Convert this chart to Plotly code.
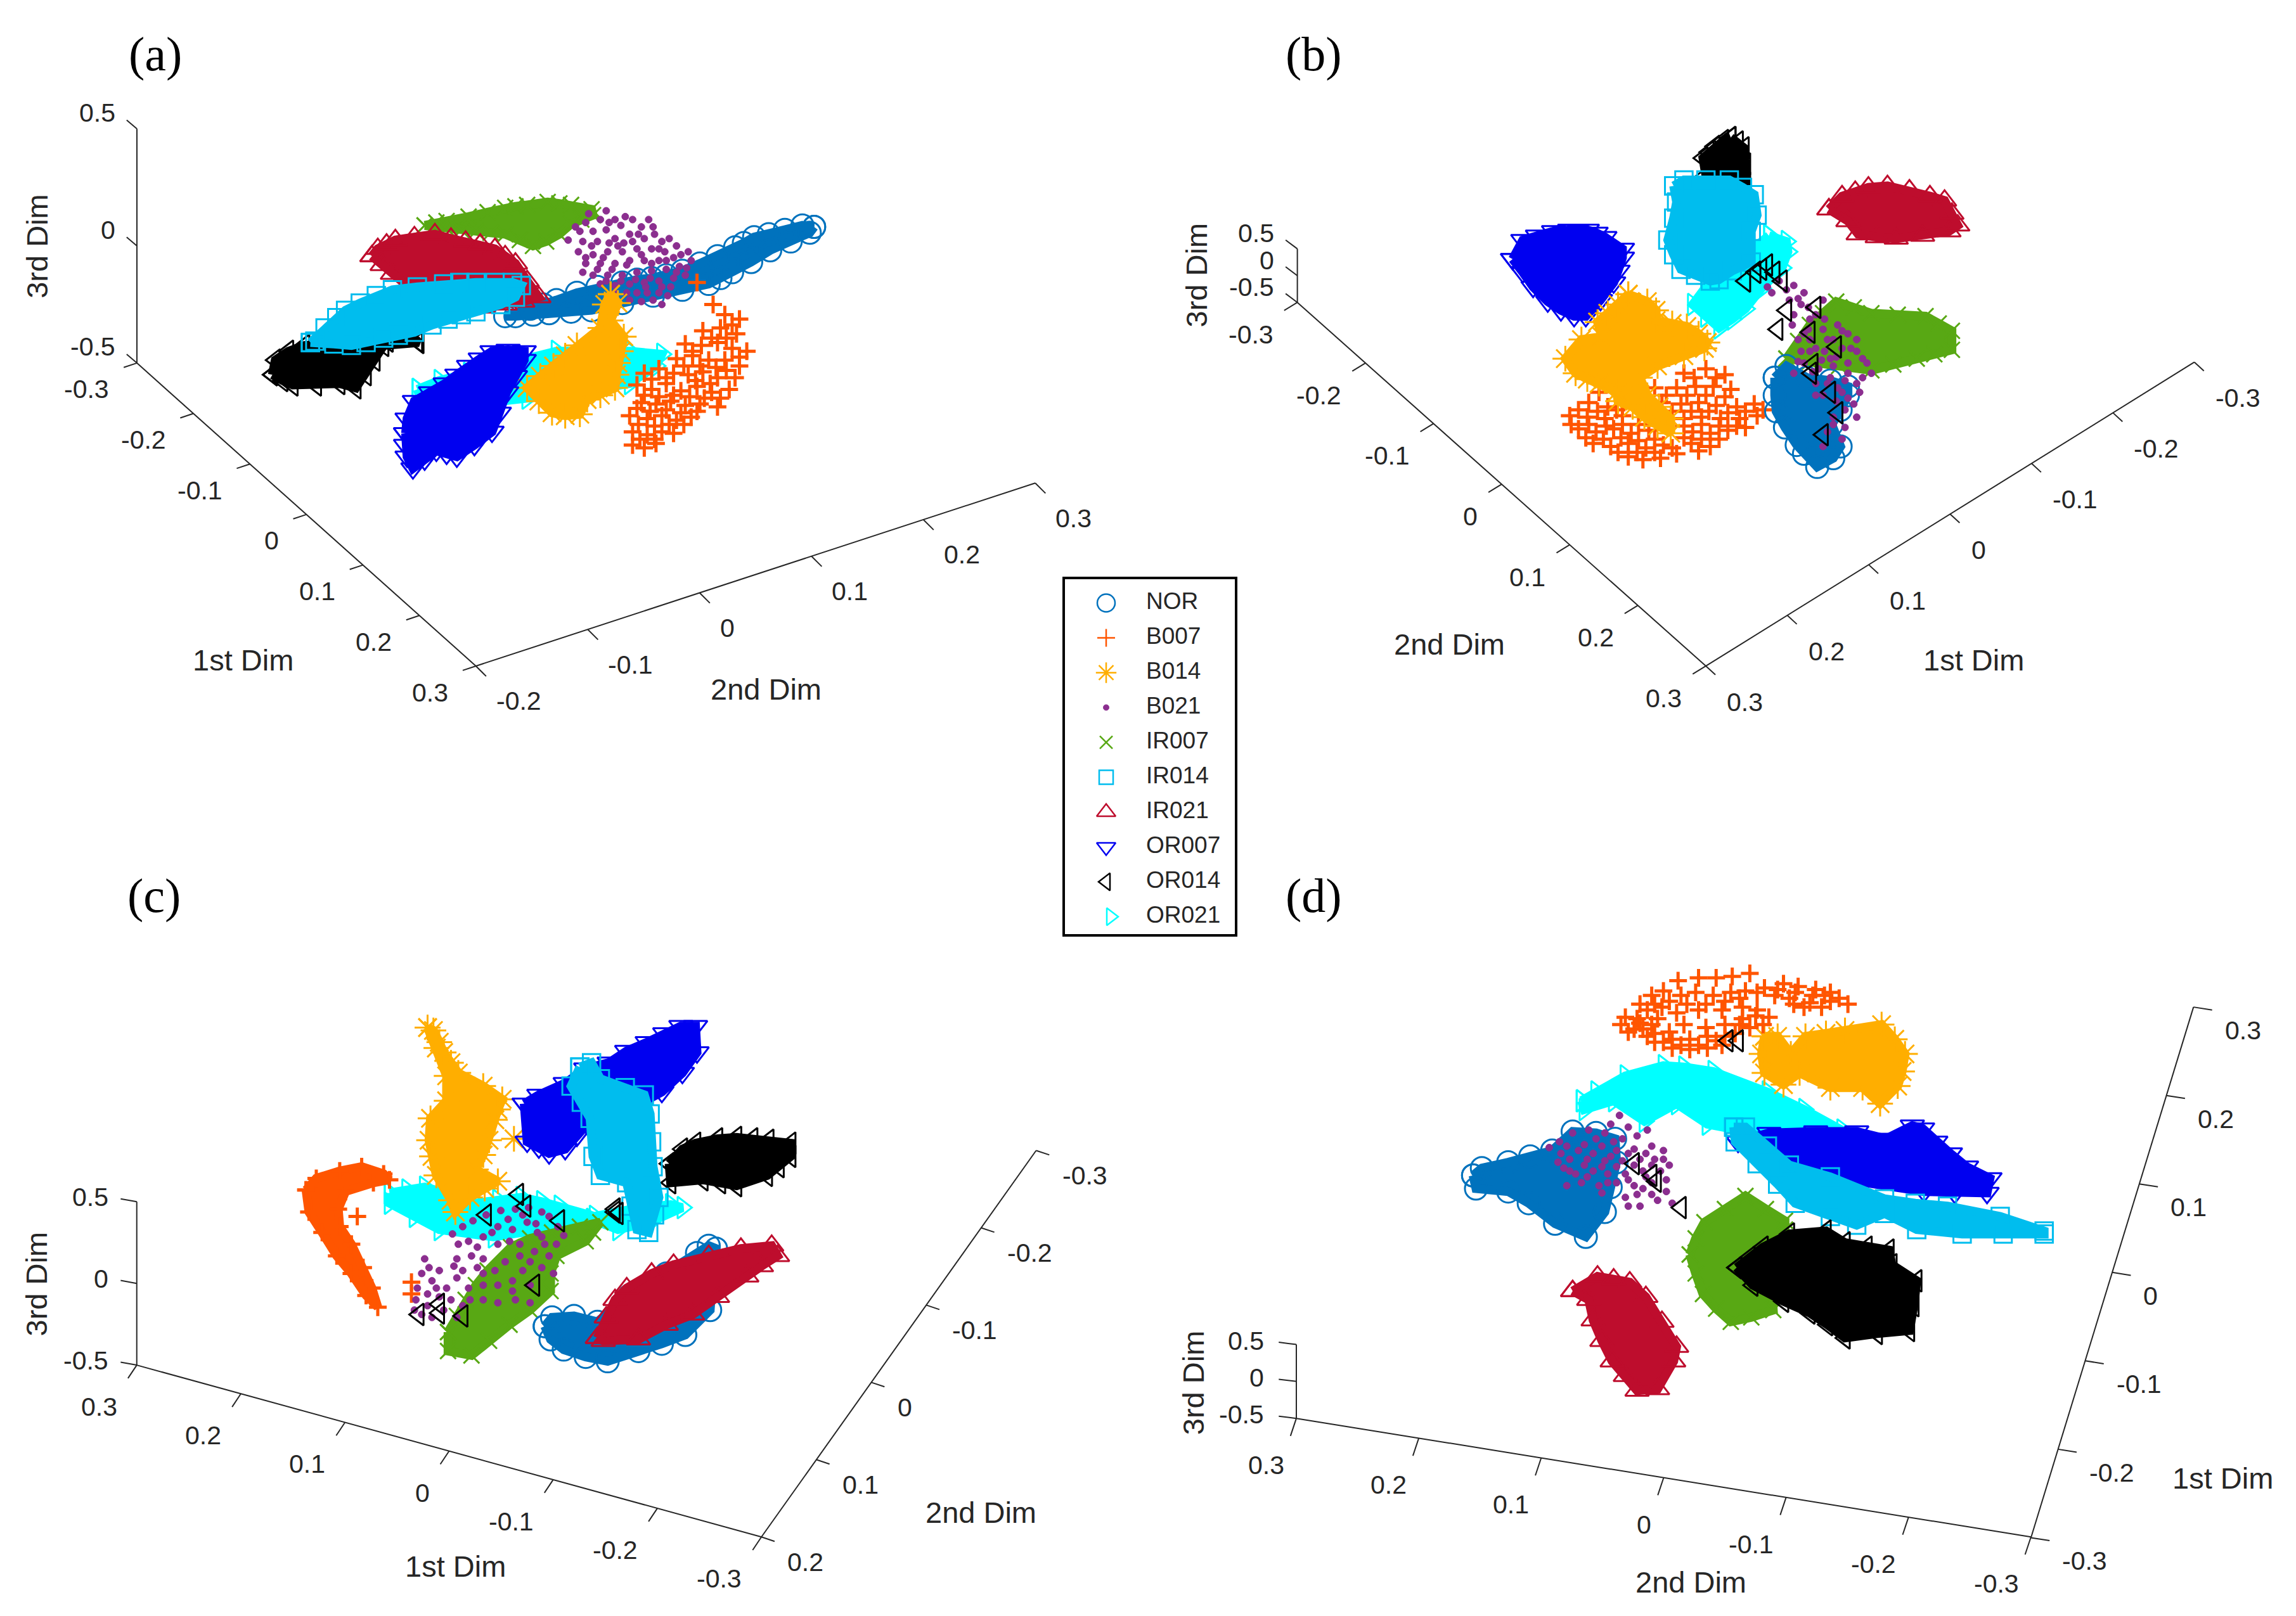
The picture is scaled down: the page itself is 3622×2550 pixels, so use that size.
import plotly.graph_objects as go

# values, in the units of the picture shown at 1568 wide
REF_W = 1568
REF_H = 1104

CLASS_NAMES = ["NOR", "B007", "B014", "B021", "IR007", "IR014", "IR021", "OR007", "OR014", "OR021"]
CLASS_COLORS = ["#0072BD", "#FF5500", "#FFAE00", "#8B2E8F", "#58A814", "#00BDEE", "#BE0D2D", "#0000F0", "#000000", "#00FFFF"]
CLASS_SYMBOLS = ["circle-open", "cross-thin-open", "asterisk-open", "circle", "x-thin-open", "square-open",
                 "triangle-up-open", "triangle-down-open", "triangle-left-open", "triangle-right-open"]
CLASS_SIZES = [28, 20, 27, 9, 20, 22, 26, 26, 24, 24]

TICKS_1ST = ["-0.3", "-0.2", "-0.1", "0", "0.1", "0.2", "0.3"]
TICKS_2ND_SHORT = ["-0.2", "-0.1", "0", "0.1", "0.2", "0.3"]
TICKS_3RD = ["-0.5", "0", "0.5"]

# panel (a)
A_NOR = [(556,155),(548,154),(536,157),(525,160),(515,162),(508,166),(502,169),(490,175),(478,180),(466,185),(455,188),(445,190),(435,191),(425,193),(408,196),(394,200),(380,205),(371,208),(362,211),(345,216),(352,216),(364,215),(375,214),(390,213),(404,212),(425,207),(446,202),(466,198),(484,194),(492,190),(500,186),(513,179),(526,171),(540,165),(553,159)]
A_IR007 = [(290,154),(298,152),(305,151),(320,148),(333,145),(345,142),(352,141),(360,140),(374,138),(382,139),(390,140),(404,143),(405,147),(397,150),(390,153),(382,160),(373,165),(364,168),(355,164),(345,160),(335,159),(325,158),(315,157),(305,156)]
A_IR021 = [(254,175),(258,170),(264,167),(270,164),(283,162),(297,160),(308,163),(318,165),(328,167),(338,170),(345,175),(352,180),(360,192),(368,203),(357,206),(345,208),(330,210),(320,209),(310,208),(300,206),(290,205),(279,196),(268,187),(261,181)]
A_OR021 = [(285,266),(300,260),(320,255),(350,247),(380,240),(405,240),(430,240),(452,242),(448,250),(430,262),(395,268),(360,272),(325,276),(290,280)]
A_OR014 = [(186,256),(188,246),(197,240),(208,236),(224,235),(240,234),(265,233),(285,233),(286,234),(262,236),(256,246),(250,256),(243,265),(232,262),(216,263),(200,263),(193,260)]
A_IR014 = [(212,234),(222,224),(230,217),(236,212),(246,207),(257,202),(268,198),(285,196),(303,194),(314,193),(325,193),(338,193),(350,193),(356,195),(352,203),(342,208),(325,213),(315,215),(306,218),(295,222),(283,227),(272,229),(262,231),(250,234),(240,236),(228,235),(215,233)]
A_OR007 = [(277,296),(278,286),(283,274),(294,268),(304,262),(312,256),(320,250),(328,245),(336,240),(347,239),(358,240),(358,246),(352,257),(346,268),(341,282),(336,295),(324,304),(312,312),(305,310),(298,308),(290,314),(282,320),(278,312),(277,304)]
A_B014 = [(417,201),(422,207),(417,219),(426,230),(424,240),(422,248),(421,256),(420,265),(410,270),(401,273),(396,283),(386,284),(377,282),(368,274),(360,265),(369,257),(378,250),(386,243),(394,236),(410,224),(413,208)]
A_B007 = [(476,193),(487,208),(495,215),(505,218),(500,222),(480,226),(492,224),(503,228),(486,231),(496,231),(468,235),(479,236),(490,234),(500,238),(510,240),(473,240),(505,244),(462,245),(473,243),(484,246),(495,246),(505,250),(467,250),(478,250),(489,251),(440,255),(450,252),(460,255),(470,256),(480,254),(490,258),(502,258),(496,253),(445,259),(455,258),(475,260),(485,262),(435,263),(445,266),(455,262),(465,267),(476,264),(486,268),(498,266),(440,270),(450,271),(460,270),(471,271),(481,272),(492,272),(438,275),(448,276),(458,274),(468,277),(478,276),(490,278),(435,279),(444,281),(455,280),(465,282),(476,281),(430,284),(442,286),(452,284),(462,287),(472,285),(436,290),(447,291),(457,290),(467,290),(432,295),(442,297),(452,295),(460,296),(437,300),(447,300),(432,304),(440,306),(448,303)]
A_B021 = [(414,144),(420,150),(410,150),(400,152),(396,158),(405,158),(414,157),(424,154),(432,150),(438,155),(430,160),(420,163),(408,165),(398,165),(388,164),(447,160),(440,163),(452,165),(462,168),(454,172),(445,170),(435,170),(425,172),(415,172),(405,174),(395,172),(400,180),(410,180),(420,180),(430,178),(440,178),(450,178),(460,176),(470,172),(472,178),(464,182),(455,184),(445,185),(435,186),(425,188),(415,188),(405,188),(398,186),(410,194),(420,195),(430,194),(440,193),(450,192),(460,190),(468,188),(435,200),(442,200),(450,200),(446,205),(438,206),(452,208),(458,196),(428,200),(404,168),(426,166),(416,166),(446,155),(402,146),(393,155),(416,152),(427,148),(436,160),(443,150),(457,163),(465,174),(450,170),(438,174),(428,181),(418,184),(408,184),(400,176),(412,176),(422,168),(432,165),(445,180),(455,178),(462,186),(452,196),(444,190),(434,191),(424,192),(414,192),(420,200),(430,205),(441,196),(456,202),(469,183)]

# panel (b)
B_OR014 = [(1182,94),(1187,97),(1191,101),(1192,112),(1192,125),(1178,122),(1165,120),(1163,108),(1167,104),(1171,100),(1177,96)]
B_IR014 = [(1143,127),(1150,123),(1165,123),(1181,123),(1190,128),(1198,133),(1200,147),(1196,158),(1196,179),(1183,185),(1174,191),(1168,192),(1158,188),(1148,184),(1143,174),(1139,164),(1143,149),(1145,138)]
B_OR021 = [(1208,161),(1220,165),(1221,172),(1217,183),(1203,197),(1192,211),(1183,218),(1174,224),(1165,216),(1156,208),(1165,196)]
B_OR007 = [(1033,177),(1040,164),(1050,161),(1061,158),(1072,157),(1084,157),(1090,159),(1096,162),(1108,170),(1108,176),(1105,185),(1102,193),(1093,205),(1083,216),(1075,216),(1066,212),(1057,206),(1047,196),(1040,186)]
B_B014 = [(1112,201),(1125,206),(1131,212),(1131,219),(1142,221),(1152,223),(1160,228),(1166,234),(1164,238),(1150,243),(1132,250),(1120,258),(1125,270),(1133,278),(1141,286),(1141,296),(1132,291),(1123,285),(1115,278),(1105,274),(1104,268),(1092,262),(1084,259),(1076,255),(1069,245),(1080,232),(1094,230),(1091,220),(1098,214),(1105,208)]
B_IR021 = [(1249,143),(1258,134),(1267,131),(1276,128),(1289,127),(1304,130),(1318,134),(1328,137),(1333,146),(1337,154),(1331,158),(1313,161),(1295,163),(1282,162),(1269,160),(1262,151)]
B_IR007 = [(1220,245),(1228,233),(1236,222),(1245,214),(1254,206),(1266,210),(1278,214),(1296,215),(1315,216),(1324,221),(1333,226),(1333,239),(1321,242),(1309,245),(1293,249),(1278,253),(1256,250),(1236,247)]
B_NOR = [(1212,258),(1220,250),(1234,258),(1250,260),(1262,264),(1262,270),(1257,280),(1251,290),(1257,305),(1252,313),(1241,319),(1232,310),(1227,304),(1219,292),(1213,281),(1212,270)]
B_B021 = [(1207,196),(1215,192),(1225,195),(1232,200),(1222,205),(1210,200),(1230,208),(1240,215),(1225,215),(1235,225),(1228,232),(1245,225),(1252,232),(1240,238),(1262,228),(1255,222),(1268,232),(1272,245),(1262,248),(1250,245),(1242,252),(1232,248),(1225,255),(1240,262),(1250,258),(1262,255),(1275,248),(1278,255),(1268,262),(1255,265),(1245,270),(1262,272),(1270,268),(1260,280),(1268,285),(1252,285),(1260,292),(1248,295),(1258,300),(1245,305),(1252,290),(1235,210),(1245,205),(1230,240),(1246,240),(1258,238),(1268,240),(1236,232),(1252,250),(1240,270),(1220,198),(1228,204),(1236,218),(1246,218),(1224,222),(1232,228),(1248,232),(1258,226),(1264,238),(1254,244),(1244,246),(1236,240),(1228,247),(1238,254),(1248,262),(1258,268),(1266,276),(1254,274),(1260,260),(1272,258)]
B_B007 = [(1150,255),(1165,252),(1178,256),(1157,258),(1172,258),(1092,268),(1130,265),(1145,265),(1158,264),(1170,264),(1182,266),(1138,270),(1152,270),(1165,270),(1178,271),(1085,275),(1098,278),(1135,275),(1148,276),(1160,275),(1172,277),(1186,278),(1198,276),(1078,280),(1091,281),(1104,280),(1142,281),(1155,281),(1167,281),(1180,282),(1192,281),(1204,280),(1072,284),(1084,285),(1096,286),(1108,284),(1136,285),(1150,286),(1162,285),(1175,286),(1188,286),(1200,284),(1073,290),(1085,290),(1097,291),(1108,290),(1119,290),(1150,291),(1162,290),(1174,291),(1186,291),(1078,293),(1090,295),(1102,293),(1114,296),(1126,294),(1156,295),(1168,296),(1180,294),(1192,292),(1083,299),(1095,300),(1107,299),(1119,301),(1130,300),(1150,299),(1162,300),(1174,300),(1088,303),(1100,305),(1112,303),(1124,306),(1136,304),(1155,303),(1168,305),(1105,309),(1118,309),(1130,309),(1142,306),(1160,308),(1112,312),(1122,314),(1134,313),(1145,310),(1245,297)]
B_OR014_STRAY = [(1192,192),(1203,184),(1212,186),(1217,192),(1220,212),(1240,210),(1214,225),(1236,227),(1254,237),(1238,249),(1237,255),(1250,268),(1255,282),(1245,297),(1207,181),(1199,186)]

# panel (c)
C_B014 = [(292,702),(296,704),(300,712),(303,719),(308,726),(313,733),(330,742),(343,751),(340,758),(338,765),(334,779),(330,789),(325,799),(340,807),(331,812),(321,818),(311,828),(308,820),(298,803),(295,790),(293,779),(294,764),(305,752),(305,735),(298,716)]
C_B014_STRAY = [(351,778)]
C_OR007 = [(358,754),(368,748),(386,740),(400,730),(416,726),(428,718),(442,712),(454,706),(465,701),(475,701),(476,719),(466,733),(452,746),(426,760),(401,768),(394,776),(386,785),(375,788),(368,784),(360,780)]
C_IR014 = [(396,729),(404,726),(410,737),(427,743),(440,748),(444,761),(445,780),(446,797),(450,818),(447,830),(443,842),(435,840),(431,824),(428,808),(410,803),(405,790),(403,764),(397,753),(390,742)]
C_OR014 = [(457,795),(466,785),(475,781),(490,778),(503,777),(514,778),(525,779),(540,781),(540,790),(532,797),(524,803),(503,810),(492,808),(480,806),(458,808)]
C_OR021 = [(266,815),(278,813),(290,811),(308,816),(325,822),(340,820),(356,818),(370,821),(382,824),(406,831),(432,826),(458,823),(466,825),(444,835),(422,840),(404,833),(370,840),(337,845),(300,840),(283,831),(266,822)]
C_B007 = [(209,813),(216,805),(232,800),(247,797),(262,802),(266,806),(255,808),(236,814),(231,826),(232,838),(240,850),(248,866),(254,880),(258,893),(250,885),(240,870),(230,858),(220,842),(211,828)]
C_B007_STRAY = [(244,831),(281,884),(281,876)]
C_B021 = [(309,843),(316,838),(323,834),(332,830),(342,827),(352,826),(361,825),(370,828),(375,831),(381,838),(385,844),(380,850),(370,845),(360,835),(350,840),(340,838),(330,845),(320,848),(313,850),(312,860),(322,858),(310,865),(330,860),(340,850),(355,850),(365,855),(375,858),(345,862),(357,868),(370,866),(350,875),(362,878),(340,878),(330,870),(312,873),(305,880),(320,880),(330,888),(340,890),(352,888),(362,890),(288,870),(295,875),(285,880),(300,886),(292,892),(283,895),(295,900),(303,895),(312,900),(321,888),(316,892),(290,860),(300,868),(330,878),(367,842),(378,870),(355,858),(293,866),(284,888),(292,884),(288,898),(298,880),(308,888),(326,852),(336,842),(347,833),(357,830),(366,836),(372,850),(348,848),(362,862),(338,868),(350,882),(326,866),(316,868)]
C_IR007 = [(306,910),(312,899),(318,888),(325,878),(333,868),(349,852),(362,846),(377,842),(396,838),(410,835),(405,842),(400,848),(380,858),(376,870),(376,882),(362,895),(348,905),(334,916),(322,926),(306,923)]
C_NOR = [(372,906),(377,900),(392,899),(408,903),(430,885),(455,870),(476,856),(484,851),(489,853),(487,868),(486,880),(485,895),(468,912),(452,918),(436,923),(415,930),(400,927),(385,922),(376,915)]
C_IR021 = [(408,914),(414,900),(420,888),(428,880),(445,870),(460,864),(484,858),(506,853),(527,851),(531,858),(520,865),(510,872),(490,886),(473,898),(455,905),(436,915),(412,916)]
C_OR014_STRAY = [(354,816),(332,830),(359,824),(382,834),(420,826),(422,829),(420,828),(365,878),(286,898),(300,891),(300,897),(316,899)]

# panel (d)
D_B007 = [(1110,695),(1120,686),(1118,696),(1128,680),(1125,690),(1136,677),(1135,688),(1146,670),(1148,680),(1160,668),(1158,678),(1172,668),(1170,680),(1183,667),(1182,678),(1195,665),(1192,677),(1205,675),(1218,672),(1228,674),(1240,676),(1250,678),(1262,686),(1250,684),(1236,685),(1222,682),(1212,680),(1200,690),(1208,695),(1190,688),(1176,690),(1160,690),(1145,692),(1132,696),(1116,703),(1125,708),(1136,712),(1148,714),(1160,714),(1172,711),(1185,706),(1195,702),(1140,705),(1150,700),(1178,700),(1128,700),(1165,702),(1204,700),(1107,700),(1112,705),(1120,699),(1122,703),(1130,706),(1130,712),(1142,710),(1142,716),(1154,710),(1154,717),(1166,708),(1166,716),(1178,708),(1176,714),(1188,700),(1190,696),(1199,694),(1165,686),(1152,686),(1140,684),(1130,686),(1178,684),(1188,682),(1200,678),(1226,678),(1238,680),(1256,682),(1246,680),(1214,676),(1232,688),(1225,686),(1244,688)]
D_B014 = [(1205,708),(1214,708),(1223,720),(1233,708),(1247,706),(1260,704),(1285,700),(1294,710),(1301,720),(1299,732),(1296,742),(1284,754),(1272,743),(1250,743),(1229,733),(1218,741),(1205,733),(1203,720)]
D_OR021 = [(1080,752),(1090,746),(1110,735),(1136,728),(1150,729),(1170,732),(1207,746),(1232,758),(1258,772),(1276,782),(1208,776),(1166,768),(1145,754),(1123,766),(1102,752),(1082,758)]
D_OR007 = [(1187,780),(1208,774),(1240,773),(1268,773),(1288,778),(1306,769),(1313,771),(1322,780),(1332,788),(1343,797),(1359,805),(1357,815),(1335,815),(1314,814),(1261,806),(1235,801),(1210,796)]
D_IR014 = [(1184,770),(1192,770),(1207,783),(1222,796),(1250,804),(1287,819),(1308,822),(1330,824),(1366,831),(1396,841),(1396,843),(1368,843),(1340,843),(1309,840),(1287,829),(1268,837),(1250,831),(1226,822),(1214,809),(1200,795),(1185,780)]
D_NOR = [(1006,803),(1012,798),(1030,794),(1045,790),(1060,786),(1074,773),(1090,774),(1103,778),(1104,794),(1100,811),(1096,828),(1083,845),(1062,836),(1044,822),(1030,814),(1008,812)]
D_B021 = [(1106,762),(1100,768),(1112,770),(1125,772),(1118,776),(1108,778),(1096,774),(1085,772),(1074,774),(1065,780),(1058,784),(1070,783),(1082,782),(1094,783),(1104,786),(1116,785),(1128,783),(1136,786),(1130,792),(1120,792),(1108,793),(1096,793),(1084,792),(1072,792),(1064,794),(1076,802),(1088,800),(1098,802),(1110,802),(1122,800),(1134,800),(1140,796),(1070,810),(1080,808),(1092,810),(1104,808),(1116,810),(1128,808),(1138,806),(1110,818),(1118,816),(1128,816),(1138,814),(1112,824),(1120,824),(1142,822),(1094,815),(1072,800),(1090,778),(1102,780),(1078,786),(1066,788),(1088,788),(1100,790),(1112,788),(1124,788),(1068,798),(1082,796),(1094,797),(1104,797),(1116,796),(1128,796),(1084,804),(1098,808),(1112,806),(1124,804),(1136,792),(1122,812),(1132,820)]
D_IR007 = [(1154,857),(1158,846),(1164,835),(1178,826),(1192,817),(1206,826),(1219,834),(1219,840),(1205,860),(1210,880),(1211,895),(1196,900),(1182,903),(1172,894),(1163,884),(1158,870)]
D_OR014 = [(1186,866),(1195,859),(1204,852),(1222,843),(1247,841),(1260,849),(1275,852),(1290,854),(1292,864),(1309,875),(1307,892),(1304,909),(1282,911),(1260,914),(1248,905),(1236,897),(1218,889),(1197,878)]
D_IR021 = [(1074,882),(1091,872),(1102,874),(1113,876),(1124,886),(1135,903),(1145,920),(1143,930),(1132,949),(1118,950),(1110,940),(1101,930),(1094,916),(1088,902),(1085,888)]
D_OR014_STRAY = [(1187,711),(1180,711),(1116,795),(1128,803),(1131,807),(1148,825)]

# draw order of each panel, back to front: class, points, solid body or not
A_LAYERS = [("OR021", A_OR021, True), ("NOR", A_NOR, True), ("IR007", A_IR007, True), ("IR021", A_IR021, True),
            ("B021", A_B021, False), ("OR014", A_OR014, True), ("IR014", A_IR014, True), ("B014", A_B014, True),
            ("OR007", A_OR007, True), ("B007", A_B007, False)]
B_LAYERS = [("OR014", B_OR014, True), ("OR021", B_OR021, True), ("IR014", B_IR014, True), ("OR007", B_OR007, True),
            ("B007", B_B007, False), ("B014", B_B014, True), ("IR021", B_IR021, True), ("IR007", B_IR007, True),
            ("NOR", B_NOR, True), ("B021", B_B021, False), ("OR014", B_OR014_STRAY, False)]
C_LAYERS = [("OR021", C_OR021, True), ("B014", C_B014, True), ("B014", C_B014_STRAY, False), ("OR007", C_OR007, True),
            ("OR014", C_OR014, True), ("IR014", C_IR014, True), ("B007", C_B007, True), ("B007", C_B007_STRAY, False),
            ("IR007", C_IR007, True), ("B021", C_B021, False), ("NOR", C_NOR, True), ("IR021", C_IR021, True),
            ("OR014", C_OR014_STRAY, False)]
D_LAYERS = [("OR021", D_OR021, True), ("B014", D_B014, True), ("B007", D_B007, False), ("OR007", D_OR007, True),
            ("IR014", D_IR014, True), ("NOR", D_NOR, True), ("B021", D_B021, False), ("IR007", D_IR007, True),
            ("OR014", D_OR014, True), ("IR021", D_IR021, True), ("OR014", D_OR014_STRAY, False)]

# panel box in picture units, letter and axes: labels, start, end, tick vector, label offset, label anchor
PANELS = [
    dict(box=(0, 770, 0, 560), letter="(a)", letter_xy=(106, 37), layers=A_LAYERS,
         axes=[(TICKS_1ST, (93.5, 248), (325, 455), (-9, 3), (-18, 18), "right"),
               (TICKS_2ND_SHORT, (325, 455), (707, 330), (7, 7), (13, 24), "left"),
               (TICKS_3RD, (93.5, 248), (93.5, 88), (-7, -6), (-14, -11), "right")],
         titles=[("1st Dim", 166, 451, 0), ("2nd Dim", 523, 471, 0), ("3rd Dim", 25, 168, -90)]),
    dict(box=(770, REF_W, 0, 560), letter="(b)", letter_xy=(897, 37), layers=B_LAYERS,
         axes=[(TICKS_1ST, (886, 206.6), (1165, 455), (-9, 5.5), (-15.5, 22), "right"),
               (TICKS_1ST[::-1], (1165, 455), (1498.6, 247.4), (6.5, 6), (13.5, 24.5), "left"),
               (TICKS_3RD, (886, 206.6), (886, 170), (-8, -6), (-15, -10.5), "right")],
         titles=[("1st Dim", 1348, 451, 0), ("2nd Dim", 990, 440, 0), ("3rd Dim", 817, 188, -90)]),
    dict(box=(0, 770, 560, REF_H), letter="(c)", letter_xy=(105, 612), layers=C_LAYERS,
         axes=[(TICKS_1ST[::-1], (93.4, 932.6), (520, 1050), (-6, 9), (-12.5, 28.5), "right"),
               (TICKS_2ND_SHORT[::-1][1:] + ["-0.3"], (520, 1050), (707.6, 786), (9, 3), (17, 17), "left"),
               (TICKS_3RD, (93.4, 932.6), (93.4, 821), (-11, -2), (-18.7, -3), "right")],
         titles=[("1st Dim", 311, 1070, 0), ("2nd Dim", 670, 1033, 0), ("3rd Dim", 25, 877, -90)]),
    dict(box=(770, REF_W, 560, REF_H), letter="(d)", letter_xy=(897, 612), layers=D_LAYERS,
         axes=[(TICKS_1ST[::-1], (885.3, 969), (1387, 1050), (-4, 12), (-7.5, 32), "right"),
               (TICKS_1ST, (1387, 1050.5), (1498, 688), (12.7, 2), (20.5, 16), "left"),
               (TICKS_3RD, (885.3, 969), (885.3, 918.5), (-12, -1.5), (-21, -2.5), "right")],
         titles=[("1st Dim", 1518, 1010, 0), ("2nd Dim", 1155, 1081, 0), ("3rd Dim", 815, 944.5, -90)]),
]

AXIS_COLOR = "#262626"
SANS = "Liberation Sans"
SERIF = "Liberation Serif"
BODY_STROKE = 14  # thick outline so the crowded clusters read as one solid mass

fig = go.Figure()
annotations = []
layout_axes = {}


def marker_of(name, in_panel=True):
    i = CLASS_NAMES.index(name)
    size, width = CLASS_SIZES[i], 2.5
    if in_panel:
        size, width = size * 1.25, 3
    if name == "B021":
        size, width = (11 if in_panel else 9), 1
    if name == "B007" and in_panel:
        size, width = CLASS_SIZES[i], 5
    return dict(symbol=CLASS_SYMBOLS[i], size=size, color=CLASS_COLORS[i],
                line=dict(color=CLASS_COLORS[i], width=width))


for n, panel in enumerate(PANELS, start=1):
    x0, x1, y0, y1 = panel["box"]
    suffix = "" if n == 1 else str(n)
    xref, yref = "x" + suffix, "y" + suffix
    layout_axes["xaxis" + suffix] = dict(domain=[x0 / REF_W, x1 / REF_W], range=[x0, x1], visible=False, anchor=yref)
    layout_axes["yaxis" + suffix] = dict(domain=[1 - y1 / REF_H, 1 - y0 / REF_H], range=[y1, y0], visible=False, anchor=xref)

    # the three box edges with their ticks and labels
    for labels, start, end, tick, offset, side in panel["axes"]:
        line_x, line_y = [start[0], end[0], None], [start[1], end[1], None]
        for k, label in enumerate(labels):
            f = k / (len(labels) - 1)
            px = start[0] + (end[0] - start[0]) * f
            py = start[1] + (end[1] - start[1]) * f
            line_x += [px, px + tick[0], None]
            line_y += [py, py + tick[1], None]
            annotations.append(dict(x=px + offset[0], y=py + offset[1], xref=xref, yref=yref, text=label,
                                    showarrow=False, xanchor=side, yanchor="middle",
                                    font=dict(family=SANS, size=41, color=AXIS_COLOR)))
        fig.add_trace(go.Scatter(x=line_x, y=line_y, xaxis=xref, yaxis=yref, mode="lines", showlegend=False,
                                 line=dict(color=AXIS_COLOR, width=2), cliponaxis=False, hoverinfo="skip"))

    for text, tx, ty, angle in panel["titles"]:
        annotations.append(dict(x=tx, y=ty, xref=xref, yref=yref, text=text, showarrow=False, textangle=angle,
                                font=dict(family=SANS, size=47, color=AXIS_COLOR)))
    annotations.append(dict(x=panel["letter_xy"][0], y=panel["letter_xy"][1], xref=xref, yref=yref,
                            text=panel["letter"], showarrow=False,
                            font=dict(family=SERIF, size=76, color="#000000")))

    for name, points, solid in panel["layers"]:
        color = CLASS_COLORS[CLASS_NAMES.index(name)]
        if solid:
            points = points + points[:1]
        xs, ys = zip(*points)
        fig.add_trace(go.Scatter(x=list(xs), y=list(ys), xaxis=xref, yaxis=yref, name=name,
                                 mode="lines+markers" if solid else "markers",
                                 marker=marker_of(name), showlegend=False, cliponaxis=False,
                                 fill="toself" if solid else "none", fillcolor=color,
                                 line=dict(color=color, width=BODY_STROKE)))

# legend box as its own small axes, so the glyphs keep their full size
layout_axes["xaxis5"] = dict(domain=[1680 / 3622, 1948 / 3622], range=[0, 268], anchor="y5", showline=True,
                             mirror=True, linecolor="#000000", linewidth=4, showticklabels=False, ticks="",
                             showgrid=False, zeroline=False)
layout_axes["yaxis5"] = dict(domain=[1 - 1474 / 2550, 1 - 914 / 2550], range=[9.5, -0.68], anchor="x5",
                             type="category", categoryorder="array", categoryarray=CLASS_NAMES, showline=True,
                             mirror=True, linecolor="#000000", linewidth=4, showticklabels=False, ticks="",
                             showgrid=False, zeroline=False)
for name in CLASS_NAMES:
    fig.add_trace(go.Scatter(x=[72 if name == "OR021" else 65], y=[name], xaxis="x5", yaxis="y5", mode="markers",
                             name=name, marker=marker_of(name, in_panel=False), showlegend=False, cliponaxis=False))
fig.add_trace(go.Scatter(x=[128] * len(CLASS_NAMES), y=CLASS_NAMES, xaxis="x5", yaxis="y5", mode="text",
                         text=CLASS_NAMES, textposition="middle right", showlegend=False,
                         textfont=dict(family=SANS, size=37, color="#262626"), cliponaxis=False))

fig.update_layout(width=3622, height=2550, margin=dict(l=0, r=0, t=0, b=0), paper_bgcolor="white",
                  plot_bgcolor="rgba(0,0,0,0)", showlegend=False, annotations=annotations, **layout_axes)

# the page margin would push the whole figure 8 px off
fig.write_html("out.html", config={"displayModeBar": False}, post_script="document.body.style.margin='0';")
